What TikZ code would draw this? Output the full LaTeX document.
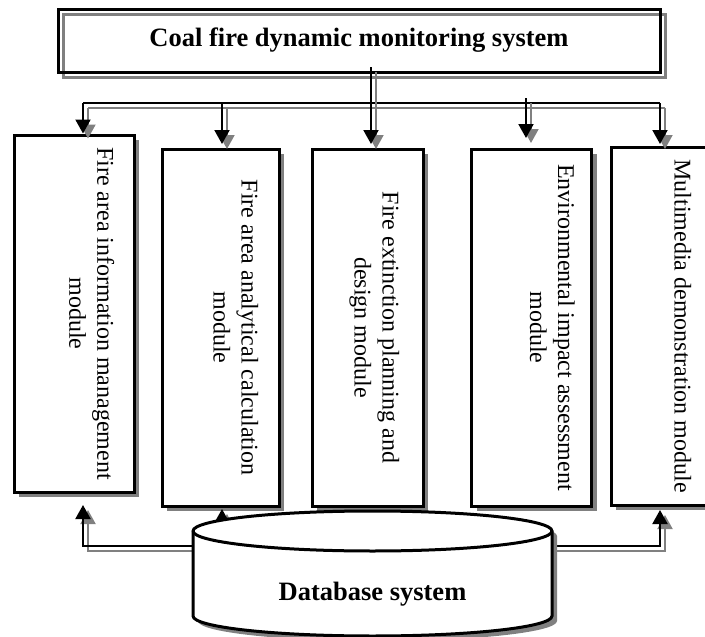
\documentclass[tikz,border=0pt]{standalone}
\usepackage{fontspec}
\setmainfont{Liberation Serif}
\usetikzlibrary{calc,shadows,arrows.meta}
\def\shadelink[#1]#2{\draw[linkshade,#1] #2; \draw[link,#1] #2;}

\begin{document}
\begin{tikzpicture}[x=1pt,y=-1pt,
		link/.style={line width=2pt, -{Triangle[width=15pt,length=14pt]}},
		linkshade/.style={link, draw=black!50, transform canvas={shift={(5pt,-5pt)}}},
		titlebox/.style={draw, line width=3pt, minimum width=602pt, minimum height=63pt, font=\bfseries\fontsize{26.5}{30}\selectfont, preaction={draw=black!50, transform canvas={shift={(5pt,-5pt)}}}},
		module/.style={draw, line width=3pt, fill=white, inner sep=0pt, minimum height=357pt, drop shadow={shadow xshift=5pt, shadow yshift=-5pt, fill=black!50, opacity=1}},
		modtext/.style={rotate=-90, anchor=north, align=center, inner sep=0pt, font=\fontsize{24}{28}\selectfont},
		dbline/.style={draw, line width=3pt}]
			%%%%% START %%%%%
			\useasboundingbox (0,0) rectangle (705,637);
			
			\node[titlebox] (coal) at (359,40.5) {Coal fire dynamic monitoring system};
			
			\node[module, minimum width=120pt] (info) at (74,313.5) {};
			\node[module, minimum width=117pt] (calc) at (220.5,327.5) {};
			\node[module, minimum width=111pt] (plan) at (367.5,327.5) {};
			\node[module, minimum width=120pt] (env) at (531.5,327.5) {};
			\node[module, minimum width=110pt, minimum height=358pt] (media) at (666,326) {};
			
			\node[modtext] at ($(info.east)+(-21,0)$) {Fire area information management\\module};
			\node[modtext] at ($(calc.east)+(-22,0)$) {Fire area analytical calculation\\module};
			\node[modtext] at ($(plan.east)+(-25,0)$) {Fire extinction planning and\\design module};
			\node[modtext] at ($(env.east)+(-18,0)$) {Environmental impact assessment\\module};
			\node[modtext] at ($(media.east)+(-31,0)$) {Multimedia demonstration module};
			
			% bus from the top system
			\coordinate (drop) at (371,67);
			\coordinate (bus1) at (83,103);
			\coordinate (bus2) at (222,103);
			\coordinate (tap4) at (526,98);
			\coordinate (bus5) at (660,103);
			
			\shadelink[-]{(bus1) -- (bus5)}
			\shadelink[]{(bus1) -- (bus1 |- info.north)}
			\shadelink[]{(bus2) -- (222,144)}
			\shadelink[]{(drop) -- (371,144)}
			\shadelink[]{(tap4) -- (526,138)}
			\shadelink[]{(bus5) -- (660,144)}
			
			% links from the database
			\coordinate (dbL) at (193,546);
			\coordinate (dbR) at (552,546);
			\coordinate (dbM) at (222,545);
			
			\shadelink[]{(dbL) -- (bus1 |- dbL) -- (83,505)}
			\shadelink[]{(dbR) -- (bus5 |- dbR) -- (660,510)}
			\shadelink[]{(dbM) -- (222,509)}
			
			\path[dbline, fill=white, drop shadow={shadow xshift=5pt, shadow yshift=-5pt, fill=black!50, opacity=1}]
				(193,531) -- (193,616) arc[start angle=180, end angle=360, x radius=179.5pt, y radius=20pt]
				-- (552,531) arc[start angle=0, end angle=180, x radius=179.5pt, y radius=20pt] -- cycle;
			\draw[dbline] (193,531) arc[start angle=180, end angle=360, x radius=179.5pt, y radius=20pt];
			
			\node[font=\bfseries\fontsize{26.5}{30}\selectfont] (db) at (372.5,594) {Database system};
			%%%%% END %%%%%
\end{tikzpicture}
\end{document}
